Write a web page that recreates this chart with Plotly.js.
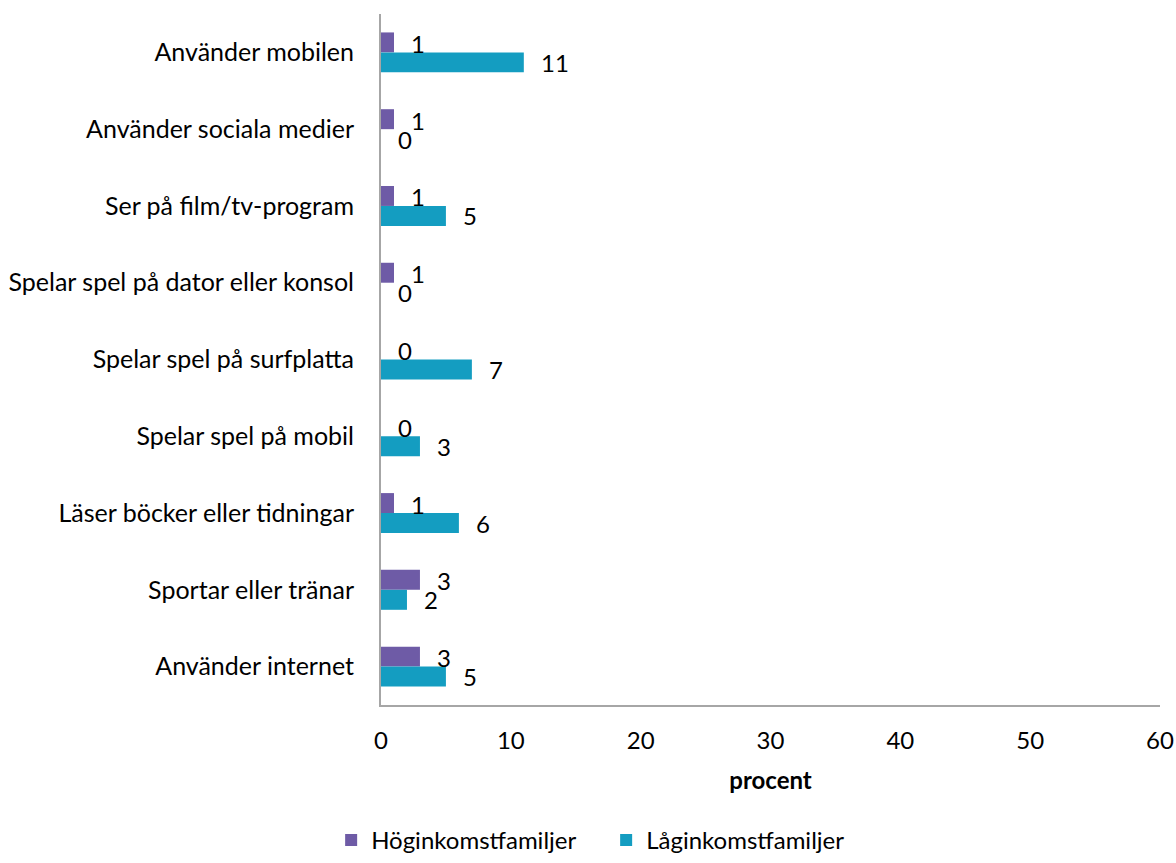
<!DOCTYPE html>
<html>
<head>
<meta charset="utf-8">
<script src="https://cdn.plot.ly/plotly-3.0.1.min.js"></script>
<style>html,body{margin:0;padding:0;background:#fff;}#chart{width:1176px;height:863px;}</style>
</head>
<body>
<div id="chart"></div>
<script>
const categories = [
  "Använder mobilen",
  "Använder sociala medier",
  "Ser på film/tv-program",
  "Spelar spel på dator eller konsol",
  "Spelar spel på surfplatta",
  "Spelar spel på mobil",
  "Läser böcker eller tidningar",
  "Sportar eller tränar",
  "Använder internet"
];
const hogValues = [1, 1, 1, 1, 0, 0, 1, 3, 3];
const lagValues = [11, 0, 5, 0, 7, 3, 6, 2, 5];
const seriesNames = ["Höginkomstfamiljer", "Låginkomstfamiljer"];
const xTicks = [0, 10, 20, 30, 40, 50, 60];

const FONT = "Lato, 'Open Sans', sans-serif";
const purple = "#6E5BA6";
const teal = "#149DC1";
const NUM = 24;

const traces = [
  {type: "bar", orientation: "h", name: seriesNames[0], y: categories, x: hogValues,
   marker: {color: purple}, hoverinfo: "x"},
  {type: "bar", orientation: "h", name: seriesNames[1], y: categories, x: lagValues,
   marker: {color: teal}, hoverinfo: "x"}
];

const annotations = [];
categories.forEach((c, i) => {
  annotations.push({x: hogValues[i], y: c, xref: "x", yref: "y", text: String(hogValues[i]),
    showarrow: false, xanchor: "left", yanchor: "middle", xshift: 15, yshift: 9,
    font: {family: FONT, size: NUM, color: "#000"}});
  annotations.push({x: lagValues[i], y: c, xref: "x", yref: "y", text: String(lagValues[i]),
    showarrow: false, xanchor: "left", yanchor: "middle", xshift: 15, yshift: -10,
    font: {family: FONT, size: NUM, color: "#000"}});
});

const layout = {
  width: 1176, height: 863,
  margin: {l: 381, r: 16, t: 14, b: 158, autoexpand: false},
  paper_bgcolor: "#fff", plot_bgcolor: "#fff",
  font: {family: FONT, size: NUM, color: "#000"},
  barmode: "group",
  bargap: 0.48,
  bargroupgap: 0,
  showlegend: true,
  legend: {orientation: "h", x: -0.064, xanchor: "left", yref: "container", y: 0.0, yanchor: "bottom",
    font: {family: FONT, size: NUM, color: "#000"}, entrywidth: 230, tracegroupgap: 0},
  xaxis: {range: [0, 60], tickvals: xTicks, ticktext: xTicks.map(String),
    showgrid: false, zeroline: false, showline: true, linecolor: "#A6A6A6", linewidth: 2,
    ticks: "", ticklabelstandoff: 13,
    title: {text: "<b>procent</b>", standoff: 19, font: {family: FONT, size: NUM, color: "#000"}},
    tickfont: {family: FONT, size: NUM, color: "#000"}, fixedrange: true},
  yaxis: {type: "category", autorange: "reversed", showgrid: false, zeroline: false,
    showline: true, linecolor: "#A6A6A6", linewidth: 2, ticks: "", ticklabelstandoff: 20,
    tickfont: {family: FONT, size: 25, color: "#000"}, fixedrange: true},
  annotations: annotations
};

Plotly.newPlot("chart", traces, layout, {displayModeBar: false, staticPlot: true});
</script>
</body>
</html>
